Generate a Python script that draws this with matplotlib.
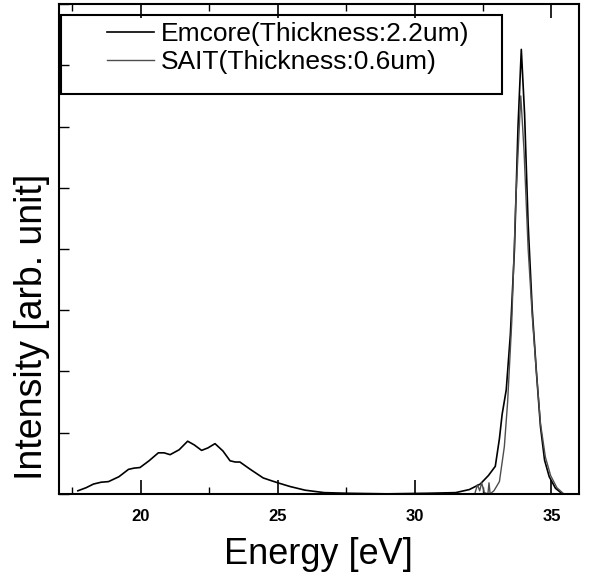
import matplotlib
matplotlib.use('Agg')
import matplotlib.pyplot as plt
from matplotlib.ticker import MultipleLocator
from matplotlib.patches import Rectangle

plt.rcParams['font.family'] = ['Liberation Sans', 'DejaVu Sans']

# Emcore spectrum (broad band + tall peak)
emcore_x = [17.7, 18.0, 18.27, 18.55, 18.82, 19.2, 19.55, 19.75, 19.97, 20.3,
            20.64, 20.85, 21.07, 21.4, 21.71, 21.95, 22.22, 22.45, 22.71, 23.0,
            23.26, 23.45, 23.62, 24.0, 24.47, 24.8, 25.08, 25.45, 26.0, 26.7,
            27.5, 29.0, 30.5, 31.5, 32.0, 32.4, 32.7, 32.95, 33.1, 33.2,
            33.35, 33.5, 33.65, 33.78, 33.9, 34.02, 34.15, 34.3, 34.45, 34.6,
            34.75, 34.92, 35.15, 35.4]
emcore_y = [0.05, 0.10, 0.16, 0.19, 0.20, 0.28, 0.40, 0.42, 0.43, 0.54,
            0.67, 0.67, 0.64, 0.72, 0.86, 0.80, 0.71, 0.75, 0.82, 0.70,
            0.54, 0.52, 0.52, 0.40, 0.26, 0.21, 0.17, 0.12, 0.06, 0.02,
            0.01, 0.0, 0.01, 0.02, 0.07, 0.16, 0.30, 0.45, 0.90, 1.30,
            1.70, 2.60, 4.00, 6.00, 7.26, 6.20, 4.40, 3.00, 2.00, 1.10,
            0.55, 0.28, 0.09, 0.0]

# SAIT spectrum (narrower peak)
sait_x = [31.5, 32.2, 32.3, 32.38, 32.45, 32.55, 32.68, 32.72, 32.76, 32.9,
          33.1, 33.28, 33.4, 33.55, 33.7, 33.88, 34.0, 34.15, 34.3, 34.45,
          34.6, 34.78, 34.97, 35.2, 35.45]
sait_y = [0.0, 0.0, 0.15, 0.05, 0.18, 0.02, 0.0, 0.18, 0.0, 0.05,
          0.20, 0.77, 1.50, 2.80, 4.80, 6.50, 5.60, 4.00, 2.90, 2.00,
          1.15, 0.60, 0.30, 0.10, 0.0]

labels = ['Emcore(Thickness:2.2um)', 'SAIT(Thickness:0.6um)']

W, H = 590, 581
fig = plt.figure(figsize=(5.9, 5.81), dpi=100)
ax = fig.add_axes([0.0995, 0.15, 0.8815, 0.843])

ax.plot(emcore_x, emcore_y, color='black', lw=1.2, label=labels[0])
ax.plot(sait_x, sait_y, color='0.3', lw=1.0, label=labels[1])

ax.set_xlim(17, 36)
ax.set_ylim(0, 8)

ax.xaxis.set_major_locator(MultipleLocator(5))
ax.xaxis.set_minor_locator(MultipleLocator(2.5))
ax.yaxis.set_major_locator(MultipleLocator(1))
ax.tick_params(axis='x', which='both', direction='in', top=True, bottom=True)
ax.tick_params(axis='x', which='major', length=10, width=1.2, pad=11)
ax.tick_params(axis='x', which='minor', length=5, width=1.0)
ax.tick_params(axis='y', which='major', direction='in', length=7, width=1.0,
               left=True, right=False, labelleft=False)
for lab in ax.get_xticklabels():
    lab.set_fontsize(12)
    lab.set_fontweight('bold')

for s in ax.spines.values():
    s.set_linewidth(1.5)

ax.set_xlabel('Energy [eV]', fontsize=26, labelpad=9)
ax.set_ylabel('Intensity [arb. unit]', fontsize=27)
ax.yaxis.set_label_coords(-0.017, 0.34)

# legend without frame, frame drawn as a separate box
leg = ax.legend(loc='upper left', bbox_to_anchor=(107 / W, 1 - 22 / H),
                bbox_transform=fig.transFigure, fontsize=19, frameon=False,
                handlelength=1.78, handletextpad=0.25, borderpad=0,
                labelspacing=0.15, borderaxespad=0)
box = Rectangle((61 / W, 1 - 94 / H), 441 / W, 79 / H, transform=fig.transFigure,
                fill=False, edgecolor='black', lw=1.5, clip_on=False)
fig.patches.append(box)

fig.savefig('out.png', dpi=100)
